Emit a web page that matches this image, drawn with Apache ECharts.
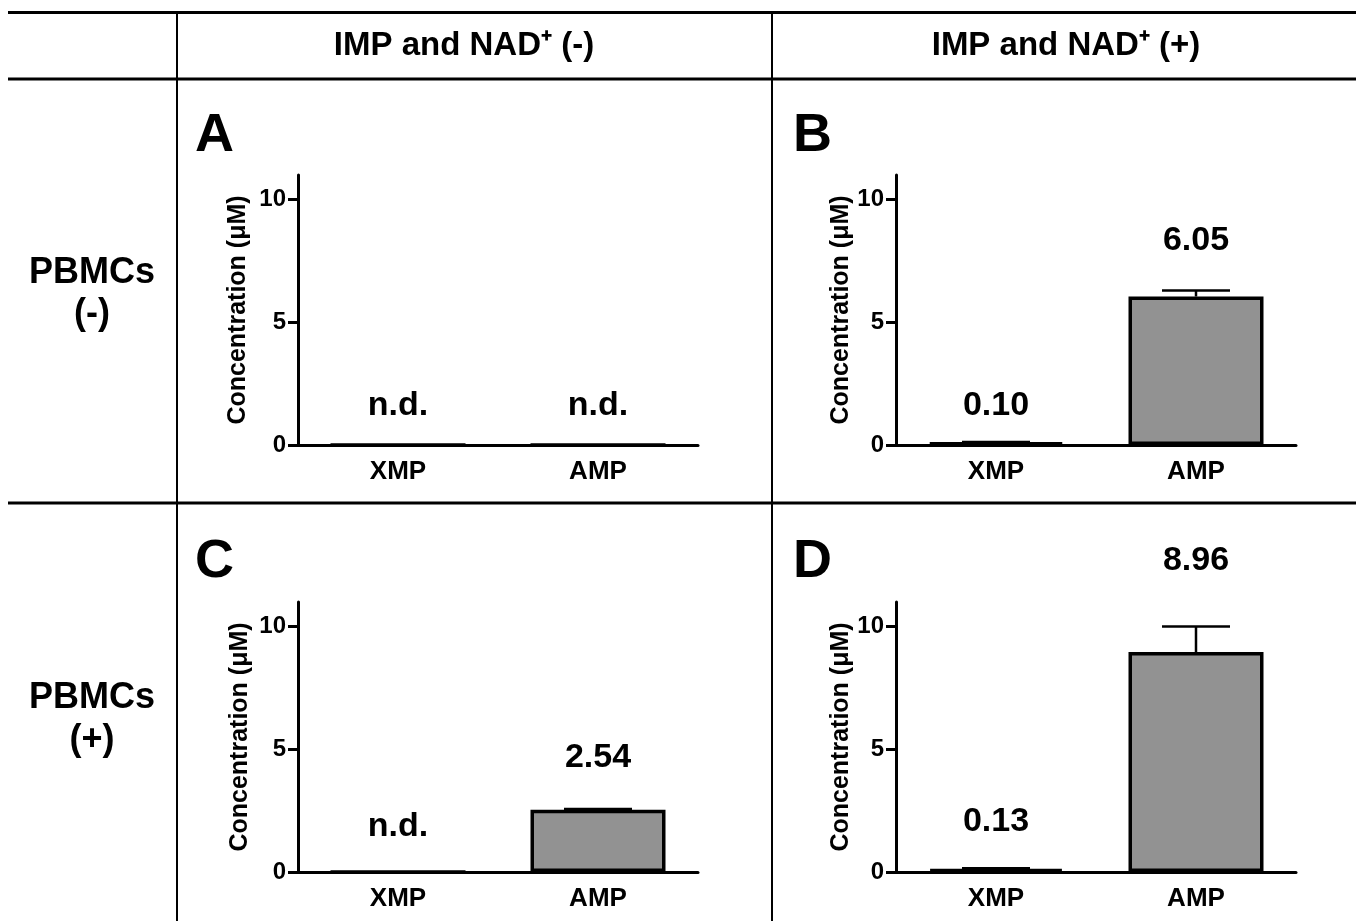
<!DOCTYPE html>
<html>
<head>
<meta charset="utf-8">
<script src="https://cdn.jsdelivr.net/npm/echarts@6/dist/echarts.min.js"></script>
<style>
  html, body { margin: 0; padding: 0; background: #fff; }
  #chart { width: 1356px; height: 921px; }
</style>
</head>
<body>
<div id="chart"></div>
<script>
'use strict'

const categories = ['XMP', 'AMP'];
const yTicks = [0, 5, 10];
const colHeaders = ['IMP and NAD⁺ (-)', 'IMP and NAD⁺ (+)'];
const rowHeaders = [['PBMCs', '(-)'], ['PBMCs', '(+)']];
const panelNames = ['A', 'B', 'C', 'D'];

// mean concentration (µM), n.d. drawn as 0
const meanA = [0, 0];
const meanB = [0.10, 6.05];
const meanC = [0, 2.54];
const meanD = [0.13, 8.96];
// upper error bar
const errA = [0, 0];
const errB = [0.02, 0.24];
const errC = [0, 0.03];
const errD = [0.02, 1.04];
// printed values and the height (µM) they sit at
const textA = ['n.d.', 'n.d.'];
const textB = ['0.10', '6.05'];
const textC = ['n.d.', '2.54'];
const textD = ['0.13', '8.96'];
const textAtA = [1.6, 1.6];
const textAtB = [1.6, 8.33];
const textAtC = [1.83, 4.64];
const textAtD = [2.05, 12.7];

const FONT = 'Liberation Sans, Arial, sans-serif';

const panels = [
  {mean: meanA, err: errA, text: textA, textAt: textAtA, left: 298, top: 175, nameGap: 47},
  {mean: meanB, err: errB, text: textB, textAt: textAtB, left: 896, top: 175, nameGap: 42},
  {mean: meanC, err: errC, text: textC, textAt: textAtC, left: 298, top: 602, nameGap: 45},
  {mean: meanD, err: errD, text: textD, textAt: textAtD, left: 896, top: 602, nameGap: 42},
];

const grids = [], xAxes = [], yAxes = [], series = [];

panels.forEach((p, i) => {
  grids.push({left: p.left, top: p.top, width: 400, height: 270, outerBoundsMode: 'none'});
  xAxes.push({
    gridIndex: i,
    type: 'category',
    data: categories,
    axisLine: {lineStyle: {color: '#000', width: 3}},
    axisTick: {alignWithLabel: true, length: 9, lineStyle: {color: '#000', width: 3}},
    axisLabel: {color: '#000', fontSize: 26, fontWeight: 'bold', fontFamily: FONT, margin: 14},
  });
  yAxes.push({
    gridIndex: i,
    type: 'value',
    min: 0,
    max: 11,
    interval: 5,
    splitLine: {show: false},
    axisLine: {show: true, lineStyle: {color: '#000', width: 3}},
    axisTick: {show: true, length: 10, customValues: yTicks, lineStyle: {color: '#000', width: 3}},
    axisLabel: {color: '#000', fontSize: 24, fontWeight: 'bold', fontFamily: FONT, margin: 12, customValues: yTicks},
    name: 'Concentration (μM)',
    nameLocation: 'middle',
    nameGap: p.nameGap,
    nameTextStyle: {color: '#000', fontSize: 25, fontWeight: 'bold', fontFamily: FONT},
  });
  series.push({
    type: 'bar',
    xAxisIndex: i,
    yAxisIndex: i,
    data: p.mean,
    barWidth: 135,
    itemStyle: {color: '#929292', borderColor: '#000', borderWidth: 3.5},
    z: 3,
  });
  series.push({
    type: 'custom',
    xAxisIndex: i,
    yAxisIndex: i,
    data: p.mean.map((m, j) => [j, m, m + p.err[j]]),
    z: 2,
    renderItem: (params, api) => {
      if (api.value(2) <= api.value(1)) return null;
      const lo = api.coord([api.value(0), api.value(1)]);
      const hi = api.coord([api.value(0), api.value(2)]);
      const half = 34;
      return {
        type: 'group',
        children: [
          {type: 'line', shape: {x1: lo[0], y1: lo[1], x2: hi[0], y2: hi[1]}, style: {stroke: '#000', lineWidth: 2.5}},
          {type: 'line', shape: {x1: hi[0] - half, y1: hi[1], x2: hi[0] + half, y2: hi[1]}, style: {stroke: '#000', lineWidth: 2.5}},
        ],
      };
    },
  });
  series.push({
    type: 'custom',
    xAxisIndex: i,
    yAxisIndex: i,
    data: p.textAt.map((v, j) => [j, v]),
    z: 4,
    renderItem: (params, api) => {
      const pt = api.coord([api.value(0), api.value(1)]);
      return {
        type: 'text',
        x: pt[0],
        y: pt[1],
        style: {
          text: p.text[params.dataIndex],
          fill: '#000',
          font: 'bold 34px ' + FONT,
          align: 'center',
          verticalAlign: 'middle',
          textAlign: 'center',
          textVerticalAlign: 'middle',
        },
      };
    },
  });
});

function line(x1, y1, x2, y2, w) {
  return {type: 'line', shape: {x1: x1, y1: y1, x2: x2, y2: y2}, style: {stroke: '#000', lineWidth: w}, silent: true};
}

function label(text, x, y, size, align) {
  return {
    type: 'text',
    x: x,
    y: y,
    silent: true,
    style: {
      text: text,
      fill: '#000',
      font: 'bold ' + size + 'px ' + FONT,
      align: align,
      verticalAlign: 'middle',
      textAlign: align,
      textVerticalAlign: 'middle',
    },
  };
}

const graphics = [
  line(8, 12.5, 1356, 12.5, 3),
  line(8, 79, 1356, 79, 3),
  line(8, 503, 1356, 503, 3),
  line(177, 12, 177, 921, 2),
  line(772, 12, 772, 921, 2),
  label(colHeaders[0], 464, 46, 33, 'center'),
  label(colHeaders[1], 1066, 46, 33, 'center'),
  label(rowHeaders[0][0], 92, 273, 36, 'center'),
  label(rowHeaders[0][1], 92, 314, 36, 'center'),
  label(rowHeaders[1][0], 92, 698, 36, 'center'),
  label(rowHeaders[1][1], 92, 740, 36, 'center'),
  label(panelNames[0], 195, 136, 54, 'left'),
  label(panelNames[1], 793, 136, 54, 'left'),
  label(panelNames[2], 195, 562, 54, 'left'),
  label(panelNames[3], 793, 562, 54, 'left'),
];

const chart = echarts.init(document.getElementById('chart'), null, {renderer: 'canvas'});
chart.setOption({
  animation: false,
  backgroundColor: '#fff',
  grid: grids,
  xAxis: xAxes,
  yAxis: yAxes,
  series: series,
  graphic: {elements: graphics},
});
</script>
</body>
</html>
